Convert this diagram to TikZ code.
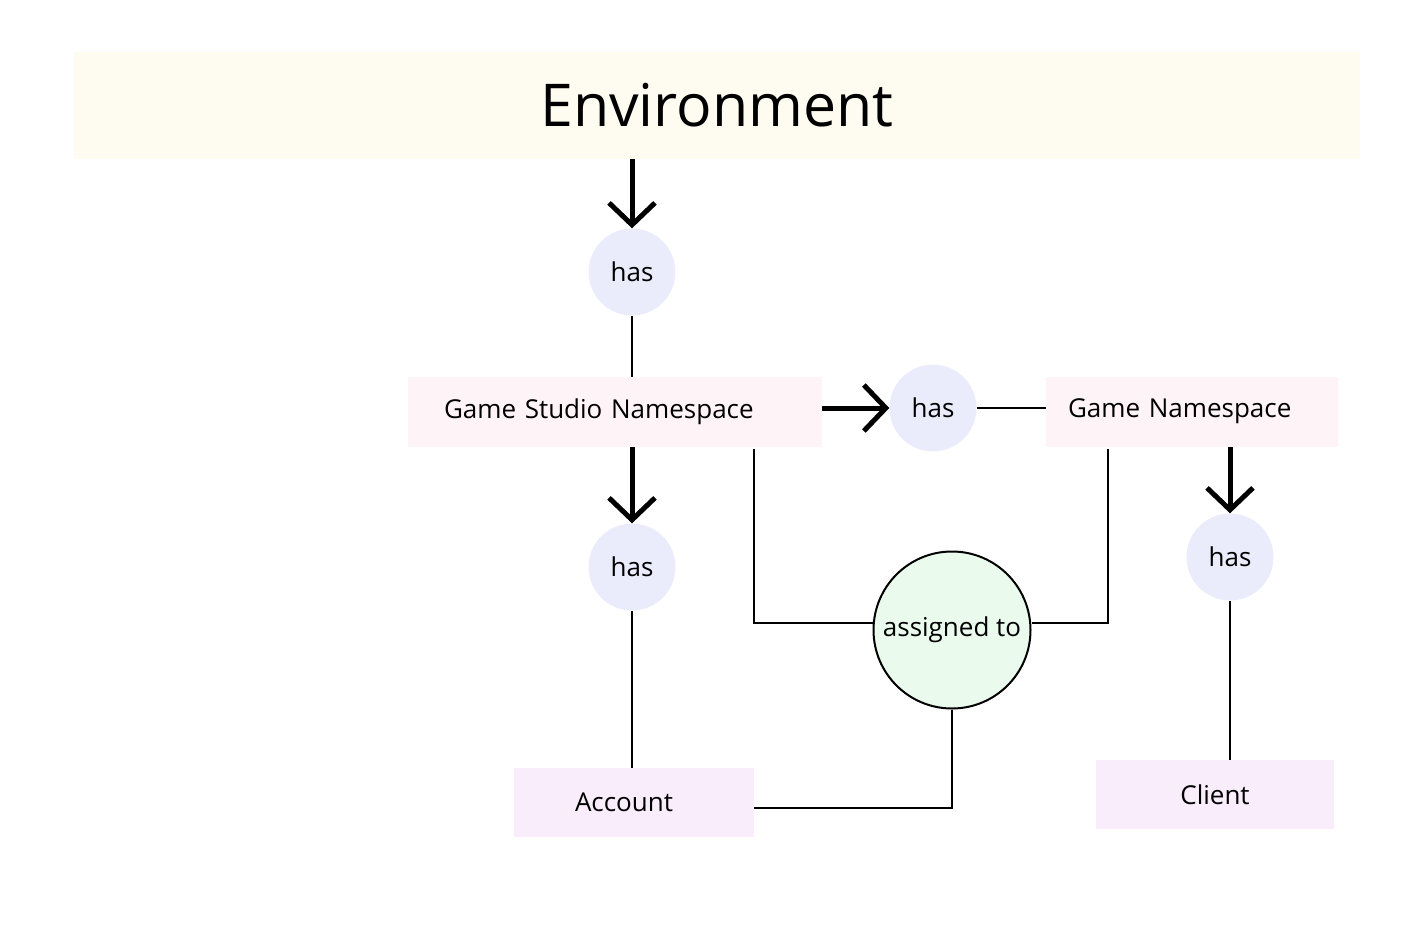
\documentclass[tikz,border=0pt]{standalone}
\usepackage{fontspec}
\setmainfont{Open Sans}
\usetikzlibrary{arrows.meta}
\definecolor{envbg}{HTML}{FEFCF0}
\definecolor{hasbg}{HTML}{EBECFB}
\definecolor{nsbg}{HTML}{FEF4F8}
\definecolor{itembg}{HTML}{F9EDFC}
\definecolor{assignbg}{HTML}{EAFBEE}

\tikzset{
  hasnode/.style={circle,fill=hasbg,minimum size=87pt,inner sep=0pt,font=\fontsize{26}{30}\selectfont},
  nsbox/.style={rectangle,fill=nsbg,minimum height=70pt,inner ysep=0pt,align=left,font=\fontsize{26}{30}\selectfont},
  itembox/.style={rectangle,fill=itembg,minimum height=69pt,inner sep=0pt,font=\fontsize{26}{30}\selectfont},
  bigarrow/.style={line width=5pt,-{Straight Barb[length=22pt,width=46pt,line width=5pt]}},
  link/.style={line width=2pt}
}

\begin{document}
\begin{tikzpicture}[x=1pt,y=-1pt]
\useasboundingbox (0,0) rectangle (1428,932);
% top band
\node[fill=envbg,minimum width=1286pt,minimum height=107pt,inner sep=0pt,font=\fontsize{59}{70}\selectfont] (env) at (717,105.5) {Environment};

% the four "has" circles
\node[hasnode] (has1) at (632,272) {has};
\node[hasnode] (has2) at (933,408) {has};
\node[hasnode] (has3) at (632,567) {has};
\node[hasnode] (has4) at (1230,557) {has};

% namespaces
\node[nsbox,minimum width=414pt,inner xsep=36pt,text width=342pt] (gsn) at (615,412) {Game Studio Namespace};
\node[nsbox,minimum width=292pt,inner xsep=22pt,text width=248pt] (gn) at (1192,411.5) {Game Namespace};

% leaves
\node[itembox,minimum width=240pt,align=left,inner xsep=61pt,text width=118pt] (account) at (634,802.5) {Account};
\node[itembox,minimum width=238pt] (client) at (1215,794.5) {Client};

\node[circle,draw,line width=2pt,fill=assignbg,minimum size=157pt,inner sep=0pt,font=\fontsize{26}{30}\selectfont] (assign) at (952,630) {assigned to};

% arrows
\draw[bigarrow] (env.south -| has1) -- (has1.north);
\draw[bigarrow] (gsn.east |- has2) -- (has2.west);
\draw[bigarrow] (gsn.south -| has3) -- (has3.north);
\draw[bigarrow] (gn.south -| has4) -- (has4.north);

% plain links
\draw[link] (has1.south) -- (gsn.north -| has1);
\draw[link] (has2.east) -- (gn.west |- has2);
\draw[link] (has3.south) -- (account.north -| has3);
\draw[link] (has4.south) -- (client.north -| has4);
\coordinate (gsnfoot) at (754,449);
\coordinate (gnfoot) at (1108,449);
\draw[link] (gsnfoot) |- (assign.west |- 0,623);
\draw[link] (gnfoot) |- (assign.east |- 0,623);
\draw[link] (assign.south) |- (account.east |- 0,808);
\end{tikzpicture}
\end{document}
